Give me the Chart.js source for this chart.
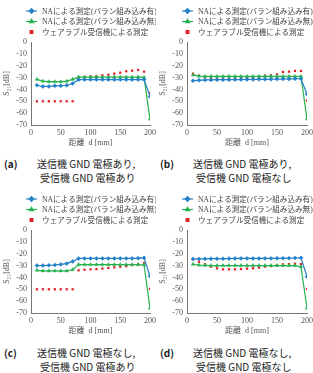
<!DOCTYPE html>
<html><head><meta charset="utf-8">
<script src="https://cdn.jsdelivr.net/npm/chart.js@4/dist/chart.umd.min.js"></script>
<style>
body{margin:0;background:#fff;width:313px;height:373px;position:relative;overflow:hidden}
.pn{position:absolute}
.cap{position:absolute;font-family:"Noto Sans CJK JP",sans-serif;font-size:10px;color:#222;white-space:nowrap;line-height:12px}
</style></head><body>
<div class="pn" style="left:0;top:0"><canvas id="c0" width="156" height="150"></canvas></div>
<div class="pn" style="left:156px;top:0"><canvas id="c1" width="157" height="150"></canvas></div>
<div class="pn" style="left:0;top:188px"><canvas id="c2" width="156" height="150"></canvas></div>
<div class="pn" style="left:156px;top:188px"><canvas id="c3" width="157" height="150"></canvas></div>
<div class="cap" style="left:4px;top:158px;font-weight:bold">(a)</div>
<div class="cap" style="left:37px;top:158px">送信機 GND 電極あり,</div>
<div class="cap" style="left:40px;top:172px">受信機 GND 電極あり</div>
<div class="cap" style="left:160px;top:158px;font-weight:bold">(b)</div>
<div class="cap" style="left:193px;top:158px">送信機 GND 電極あり,</div>
<div class="cap" style="left:196px;top:172px">受信機 GND 電極なし</div>
<div class="cap" style="left:4px;top:347px;font-weight:bold">(c)</div>
<div class="cap" style="left:37px;top:347px">送信機 GND 電極なし,</div>
<div class="cap" style="left:40px;top:361px">受信機 GND 電極あり</div>
<div class="cap" style="left:160px;top:347px;font-weight:bold">(d)</div>
<div class="cap" style="left:193px;top:347px">送信機 GND 電極なし,</div>
<div class="cap" style="left:196px;top:361px">受信機 GND 電極なし</div>
<script>
const distances = [10,20,30,40,50,60,70,80,90,100,110,120,130,140,150,160,170,180,190,200];
const seriesLabels = ["NAによる測定(バラン組み込み有)","NAによる測定(バラン組み込み無)","ウェアラブル受信機による測定"];
const xTicks = [0,50,100,150,200];
const yTicks = [0,-10,-20,-30,-40,-50,-60,-70];

const blueA  = [-36.5,-37.5,-37.5,-37,-37,-36.5,-35,-31.8,-31.7,-31.7,-31.7,-31.7,-31.7,-31.7,-31.7,-31.7,-31.7,-31.7,-31.7,-46];
const greenA = [-31.5,-33,-33.5,-33.5,-33.5,-33,-31.5,-29.6,-29.6,-29.6,-29.6,-29.6,-29.6,-29.6,-29.6,-29.6,-29.6,-29.6,-29.8,-65];
const redA   = [-50,-50,-50,-50,-50,-50,-50,-29.8,-29.5,-28.9,-28.7,-28.1,-27.6,-26.7,-25.9,-24.7,-24.2,-23.6,-25,-43];

const blueB  = [-32.6,-32.3,-32,-32,-31.8,-31.8,-31.8,-31.7,-31.7,-31.6,-31.6,-31.5,-31.5,-31.4,-31.3,-31.2,-31.1,-31,-31,-44];
const greenB = [-27.8,-28.8,-29,-29,-29,-29,-29,-29,-29,-29,-29,-29,-29,-29,-29,-29,-29,-29,-29,-65];
const redB   = [-26.7,-28.4,-29.5,-30.6,-30.9,-30.9,-30.9,-30.6,-30.3,-30.3,-29.8,-29.2,-28.4,-28.1,-27.3,-25.3,-25,-24.4,-24.4,-49.5];

const blueC  = [-30,-30,-29.8,-29.5,-29,-28.3,-26.5,-24,-24,-24,-24,-24,-24,-24,-24,-24,-24,-23.8,-23.5,-39];
const greenC = [-34,-34.5,-34.5,-34.5,-34.5,-34.5,-33.5,-29.2,-29.2,-29.2,-29.2,-29.2,-29.2,-29.2,-29.2,-29.2,-29.2,-29.2,-29.5,-66];
const redC   = [-50,-50,-50,-50,-50,-50,-50,-34,-33.5,-33.2,-33,-32.5,-32,-31.5,-31,-30.5,-29.5,-29,-28,-49.7];

const blueD  = [-24.5,-24.4,-24.3,-24.2,-24.2,-24.2,-24.1,-24,-24,-24,-24,-24,-24,-24,-23.9,-23.9,-23.8,-23.6,-23.5,-39.4];
const greenD = [-28.9,-29.6,-29.8,-30,-30,-30,-30,-30,-30,-30,-30,-30,-30,-30,-30,-30,-30,-30,-31,-66];
const redD   = [-24.7,-26.7,-28.9,-30.9,-32.3,-33.2,-33.2,-33.2,-32.9,-32.6,-32.3,-31.7,-30.9,-30.4,-29.8,-28.9,-28.7,-28.4,-28.7,-49.7];

const BLUE='rgb(36,128,200)', GREEN='rgb(40,178,80)', RED='rgb(226,30,36)';
const FONT='"Liberation Serif","Noto Sans CJK JP",serif';

function pts(arr){return distances.map((d,i)=>({x:d,y:arr[i]}));}

const legendPlugin={
  id:'customLegend',
  afterDraw(chart){
    const ctx=chart.ctx;
    const ys=[11,21.5,32];
    ctx.save();
    chart.data.datasets.forEach((ds,i)=>{
      const y=ys[i];
      if(ds.showLine!==false){
        ctx.strokeStyle=ds.borderColor;ctx.lineWidth=1.2;
        ctx.beginPath();ctx.moveTo(26,y);ctx.lineTo(37,y);ctx.stroke();
      }
      ctx.fillStyle=ds.backgroundColor;ctx.strokeStyle=ds.borderColor;
      Chart.helpers.drawPoint(ctx,{pointStyle:ds.pointStyle,radius:ds.pointRadius+0.3,borderWidth:0.5},31.5,y);
      ctx.fillStyle='#444';
      ctx.font='7.6px '+FONT;
      ctx.textBaseline='middle';ctx.textAlign='left';
      ctx.fillText(ds.label,42,y+0.5);
    });
    ctx.restore();
  }
};

function make(id,b,g,r){
  const ctx=document.getElementById(id).getContext('2d');
  new Chart(ctx,{
    type:'line',
    data:{datasets:[
      {label:seriesLabels[0],data:pts(b),borderColor:BLUE,backgroundColor:BLUE,borderWidth:1.2,pointStyle:'rectRot',pointRadius:2,pointBorderWidth:0.5,tension:0},
      {label:seriesLabels[1],data:pts(g),borderColor:GREEN,backgroundColor:GREEN,borderWidth:1.2,pointStyle:'triangle',pointRadius:2,pointBorderWidth:0.5,tension:0},
      {label:seriesLabels[2],data:pts(r),borderColor:RED,backgroundColor:RED,showLine:false,pointStyle:'rect',pointRadius:1.6,pointBorderWidth:0}
    ]},
    options:{
      responsive:false,animation:false,devicePixelRatio:1,
      layout:{padding:{left:0,right:6,top:42,bottom:0}},
      plugins:{legend:{display:false},tooltip:{enabled:false}},
      scales:{
        x:{type:'linear',min:0,max:200,
          afterBuildTicks(s){s.ticks=xTicks.map(v=>({value:v}));},
          afterFit(s){s.height=25;},
          grid:{display:false,drawTicks:true,tickLength:3,color:'#777'},
          border:{color:'#777',width:1},
          ticks:{autoSkip:false,padding:0,font:{family:FONT,size:8},color:'#555',maxRotation:0},
          title:{display:true,text:'距離  d [mm]',font:{family:FONT,size:8},color:'#555',padding:{top:0,bottom:2}}},
        y:{min:-70,max:0,
          afterBuildTicks(s){s.ticks=yTicks.map(v=>({value:v}));},
          afterFit(s){s.width=31;},
          grid:{display:false,drawTicks:true,tickLength:3,color:'#777'},
          border:{color:'#777',width:1},
          ticks:{autoSkip:false,padding:1,font:{family:FONT,size:8},color:'#555'},
          title:{display:true,text:'S₂₁[dB]',font:{family:FONT,size:8},color:'#555',padding:{top:2,bottom:0}}}
      }
    },
    plugins:[legendPlugin]
  });
}
make('c0',blueA,greenA,redA);
make('c1',blueB,greenB,redB);
make('c2',blueC,greenC,redC);
make('c3',blueD,greenD,redD);
</script>
</body></html>
